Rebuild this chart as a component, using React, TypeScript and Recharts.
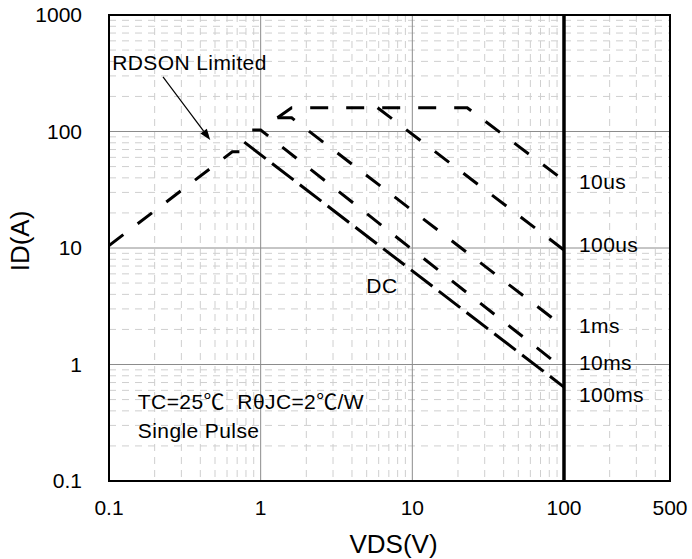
import {
  CartesianGrid,
  Line,
  LineChart,
  ReferenceArea,
  ReferenceDot,
  ReferenceLine,
  XAxis,
  YAxis,
} from "recharts";

const FONT = '"Liberation Sans", Arial, "Noto Sans CJK SC", sans-serif';

// axis ticks (log-log)
const X_TICKS = [0.1, 1, 10, 100, 500];
const Y_TICKS = [0.1, 1, 10, 100, 1000];
const MAJOR_X = [1, 10, 100];
const MAJOR_Y = [1, 10, 100];
const DECADES = [0.1, 1, 10, 100];
const MULTS = [2, 3, 4, 5, 6, 7, 8, 9];

// SOA curves, VDS (V) vs ID (A)
const RDSON_LIMIT = [
  { vds: 0.1, id: 10.5 },
  { vds: 0.65, id: 67 },
  { vds: 0.82, id: 67 },
];
const PULSE_10US = [
  { vds: 1.29, id: 131 },
  { vds: 1.6, id: 160 },
  { vds: 23, id: 160 },
  { vds: 100, id: 38 },
];
const PULSE_100US = [
  { vds: 5.9, id: 160 },
  { vds: 100, id: 9.6 },
];
const PULSE_1MS = [
  { vds: 1.29, id: 131 },
  { vds: 1.6, id: 131 },
  { vds: 100, id: 2.1 },
];
const PULSE_10MS = [
  { vds: 0.88, id: 103 },
  { vds: 1.0, id: 103 },
  { vds: 88, id: 1.04 },
];
const DC_LINE = [
  { vds: 0.78, id: 81 },
  { vds: 100, id: 0.64 },
];

const CURVE_LABELS = [
  { text: "10us", vds: 100, id: 37.5 },
  { text: "100us", vds: 100, id: 10.7 },
  { text: "1ms", vds: 100, id: 2.16 },
  { text: "10ms", vds: 100, id: 1.04 },
  { text: "100ms", vds: 100, id: 0.55 },
];
const NOTES = [
  { text: "RDSON Limited", vds: 0.105, id: 387 },
  { text: "TC=25\u2103\u00a0\u00a0R\u03b8JC=2\u2103/W", vds: 0.155, id: 0.48 },
  { text: "Single Pulse", vds: 0.155, id: 0.27 },
];
const DC_LABEL = { text: "DC", vds: 6.3, id: 4.8 };
const ARROW = [
  { x: 0.227, y: 294 },
  { x: 0.465, y: 84.5 },
];

const minorX = DECADES.flatMap((d) => MULTS.map((m) => +(d * m).toPrecision(3))).filter((v) => v < 500);
const minorY = DECADES.flatMap((d) => MULTS.map((m) => +(d * m).toPrecision(3)));

const dashed = { stroke: "#000", strokeWidth: 3, dot: false, isAnimationActive: false, type: "linear" as const };
const textStyle = { fontSize: 21, fill: "#000", letterSpacing: 0.4 };

function Arrow(props: any) {
  const { x1, y1, x2, y2 } = props;
  const a = Math.atan2(y2 - y1, x2 - x1);
  const len = 11;
  const w = 4;
  const bx = x2 - len * Math.cos(a);
  const by = y2 - len * Math.sin(a);
  const px = -Math.sin(a) * w;
  const py = Math.cos(a) * w;
  return (
    <g>
      <line x1={x1} y1={y1} x2={bx} y2={by} stroke="#000" strokeWidth={1.2} />
      <polygon points={`${x2},${y2} ${bx + px},${by + py} ${bx - px},${by - py}`} fill="#000" />
    </g>
  );
}

export default function App() {
  return (
    <div style={{ fontFamily: FONT, position: "absolute", left: 0, top: 0 }}>
      <LineChart width={692} height={559} margin={{ top: 15, right: 22, bottom: 0, left: 0 }}>
        <CartesianGrid
          verticalValues={minorX}
          horizontalValues={minorY}
          stroke="#cfcfcf"
          strokeDasharray="7 6"
        />
        <CartesianGrid verticalValues={MAJOR_X} horizontalValues={MAJOR_Y} stroke="#8c8c8c" />
        <XAxis
          dataKey="vds"
          type="number"
          scale="log"
          domain={[0.1, 500]}
          ticks={X_TICKS}
          interval={0}
          allowDataOverflow
          axisLine={false}
          tickLine={false}
          tickSize={0}
          tickMargin={19}
          height={78}
          tick={{ fontSize: 21, fill: "#000" }}
          label={{ value: "VDS(V)", position: "insideBottom", offset: 6, dx: 4, fontSize: 26, fill: "#000" }}
        />
        <YAxis
          dataKey="id"
          type="number"
          scale="log"
          domain={[0.1, 1000]}
          ticks={Y_TICKS}
          interval={0}
          allowDataOverflow
          axisLine={false}
          tickLine={false}
          tickSize={0}
          tickMargin={27}
          width={109}
          tick={{ fontSize: 21, fill: "#000" }}
          label={{
            content: ({ viewBox }: any) => {
              const cx = viewBox.x + 20;
              const cy = viewBox.y + viewBox.height / 2 - 7;
              return (
                <text
                  x={cx}
                  y={cy}
                  dy="0.35em"
                  textAnchor="middle"
                  fontSize={26}
                  fill="#000"
                  transform={`rotate(-90 ${cx} ${cy})`}
                >
                  ID(A)
                </text>
              );
            },
          }}
        />
        <ReferenceArea x1={0.1} x2={500} y1={0.1} y2={1000} fill="none" fillOpacity={0} stroke="#000" strokeWidth={2} />
        <ReferenceLine x={100} stroke="#000" strokeWidth={3.5} />

        <Line data={RDSON_LIMIT} dataKey="id" {...dashed} strokeDasharray="18 18" />
        <Line data={PULSE_10US} dataKey="id" {...dashed} strokeDasharray="18 18" />
        <Line data={PULSE_100US} dataKey="id" {...dashed} strokeDasharray="18 18" />
        <Line data={PULSE_1MS} dataKey="id" {...dashed} strokeDasharray="18 18" />
        <Line data={PULSE_10MS} dataKey="id" {...dashed} strokeDasharray="18 18" />
        <Line data={DC_LINE} dataKey="id" {...dashed} strokeDasharray="27 8" />

        <ReferenceLine segment={ARROW} shape={Arrow} />

        {CURVE_LABELS.map((l) => (
          <ReferenceDot
            key={l.text}
            x={l.vds}
            y={l.id}
            r={0}
            fill="none"
            stroke="none"
            label={{ value: l.text, position: "right", offset: 15, ...textStyle }}
          />
        ))}
        {NOTES.map((l) => (
          <ReferenceDot
            key={l.text}
            x={l.vds}
            y={l.id}
            r={0}
            fill="none"
            stroke="none"
            label={{ value: l.text, position: "right", offset: 0, ...textStyle }}
          />
        ))}
        <ReferenceDot
          x={DC_LABEL.vds}
          y={DC_LABEL.id}
          r={0}
          fill="none"
          stroke="none"
          label={{ value: DC_LABEL.text, position: "center", ...textStyle }}
        />
      </LineChart>
    </div>
  );
}
